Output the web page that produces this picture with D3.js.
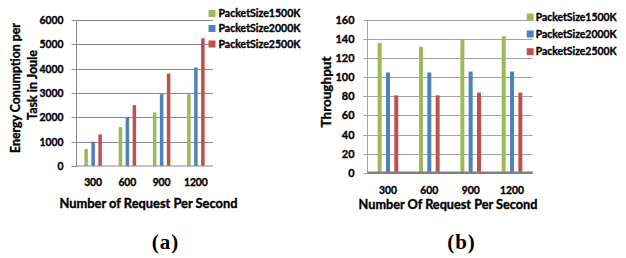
<!DOCTYPE html>
<html><head><meta charset="utf-8">
<script src="https://cdn.jsdelivr.net/npm/d3@7"></script>
<style>html,body{margin:0;padding:0;background:#fff;}svg{display:block;}
text.s{stroke:#000;stroke-width:0.35px;}</style>
</head><body>
<script>
const categories = ["300", "600", "900", "1200"];
const seriesNames = ["PacketSize1500K", "PacketSize2000K", "PacketSize2500K"];
const colors = ["#9BBB59", "#4F81BD", "#C0504D"];
const energy1500 = [700, 1600, 2200, 2950];
const energy2000 = [1000, 2000, 2950, 4050];
const energy2500 = [1300, 2500, 3800, 5250];
const energyTicks = [0, 1000, 2000, 3000, 4000, 5000, 6000];
const thr1500 = [136, 132, 140, 143];
const thr2000 = [105, 105, 106, 106];
const thr2500 = [81, 81, 84, 84];
const thrTicks = [0, 20, 40, 60, 80, 100, 120, 140, 160];

const SANS = "Lato, 'Open Sans', sans-serif";
const SERIF = "'Liberation Serif', 'DejaVu Serif', serif";

const svg = d3.select("body").append("svg").attr("width", 626).attr("height", 258);

// font-size fitting helper
const meas = svg.append("text").attr("font-family", SANS).attr("font-weight", "bold").attr("font-size", 100).attr("x", -1000).attr("y", -1000);
function fit(str, w) { meas.text(str); return 100 * w / meas.node().getComputedTextLength(); }

function panel(o) {
  const g = svg.append("g");
  const x = d3.scaleBand().domain(categories).range([o.left, o.right]).paddingInner(o.pad).paddingOuter(o.pad / 2);
  const xs = d3.scaleBand().domain(seriesNames).range([0, x.bandwidth()]).paddingInner(o.innerPad).paddingOuter(o.innerPad / 2);
  const y = d3.scaleLinear().domain([0, o.ticks[o.ticks.length - 1]]).range([o.bottom, o.top]);

  // gridlines
  g.append("g").selectAll("line").data(o.ticks.slice(1)).join("line")
    .attr("x1", o.left).attr("x2", o.right)
    .attr("y1", d => Math.round(y(d)) + 0.5).attr("y2", d => Math.round(y(d)) + 0.5)
    .attr("stroke", o.gridColor).attr("stroke-width", 1);

  // y axis
  const yAxis = d3.axisLeft(y).tickValues(o.ticks).tickSize(o.tickLen).tickPadding(o.tickPad).tickFormat(d3.format("d"));
  const ya = g.append("g").attr("transform", `translate(${Math.round(o.left) + 0.5},0)`).call(yAxis);
  ya.select(".domain").attr("stroke", o.gridColor).attr("d", `M0,${o.top}V${o.bottom}`);
  ya.selectAll(".tick line").attr("stroke", o.gridColor);
  ya.selectAll(".tick").attr("transform", d => `translate(0,${Math.round(y(d)) + 0.5})`);
  const ytfs = fit(o.yRef, o.yRefW);
  ya.selectAll(".tick text").attr("class", "s").attr("font-family", SANS).attr("font-weight", "bold").attr("font-size", ytfs).attr("fill", "#000").attr("dy", "0.34em");

  // bars
  const series = o.values.map((vals, i) => ({ name: seriesNames[i], color: colors[i], vals }));
  g.append("g").selectAll("g").data(series).join("g").attr("fill", d => d.color)
    .selectAll("rect").data(d => d.vals.map((v, j) => ({ s: d.name, c: categories[j], v }))).join("rect")
    .attr("x", d => x(d.c) + xs(d.s)).attr("width", xs.bandwidth())
    .attr("y", d => y(d.v)).attr("height", d => y(0) - y(d.v));

  // x axis line
  g.append("line").attr("x1", o.left).attr("x2", o.right)
    .attr("y1", y(0)).attr("y2", y(0))
    .attr("stroke", o.xAxisColor).attr("stroke-width", o.xAxisW);

  // x tick labels
  const xtfs = fit("1200", 24);
  g.append("g").selectAll("text").data(categories).join("text").attr("class", "s")
    .attr("x", d => x(d) + x.bandwidth() / 2).attr("y", o.xTickY).attr("dy", "0.35em")
    .attr("text-anchor", "middle").attr("font-family", SANS).attr("font-weight", "bold").attr("font-size", xtfs)
    .text(d => d);

  // x title
  g.append("text").attr("class", "s").attr("x", o.xTitleX).attr("y", o.xTitleY).attr("dy", "0.35em")
    .attr("text-anchor", "middle").attr("font-family", SANS).attr("font-weight", "bold")
    .attr("font-size", fit(o.xTitle, o.xTitleW)).text(o.xTitle);

  // y title lines
  o.yTitle.forEach(t => {
    g.append("text").attr("class", "s").attr("transform", `translate(${t.bx},${t.cy}) rotate(-90)`)
      .attr("text-anchor", "middle").attr("font-family", SANS).attr("font-weight", "bold")
      .attr("font-size", fit(t.text, t.w)).text(t.text);
  });

  // legend
  const lfs = fit(seriesNames[0], o.legW);
  const lg = g.append("g").selectAll("g").data(seriesNames).join("g")
    .attr("transform", (d, i) => `translate(${o.legX},${o.legY[i]})`);
  lg.append("rect").attr("x", 0).attr("y", -3.5).attr("width", 7).attr("height", 7).attr("fill", (d, i) => colors[i]);
  lg.append("text").attr("class", "s").attr("x", o.legTextDx).attr("y", 0).attr("dy", "0.35em")
    .attr("font-family", SANS).attr("font-weight", "bold").attr("font-size", lfs).text(d => d);

  // caption
  g.append("text").attr("x", o.capX).attr("y", o.capY).attr("text-anchor", "middle")
    .attr("font-family", SERIF).attr("font-weight", "bold").attr("font-size", 21).attr("letter-spacing", 1)
    .text(o.caption);
}

panel({
  left: 76, right: 213, top: 20, bottom: 166, pad: 0.387, innerPad: 0.5,
  ticks: energyTicks, values: [energy1500, energy2000, energy2500],
  gridColor: "#8a8a8a", xAxisColor: "#8a8a8a", xAxisW: 1,
  tickLen: 5, tickPad: 8, yRef: "6000", yRefW: 24,
  xTickY: 182.5, xTitle: "Number of Request Per Second", xTitleX: 148.5, xTitleY: 203.5, xTitleW: 178,
  yTitle: [{ text: "Energy Conumption per", bx: 19.5, cy: 88, w: 130 }, { text: "Task in Joule", bx: 37, cy: 85, w: 70 }],
  legX: 208.5, legY: [13.5, 28.5, 44], legTextDx: 10, legW: 82,
  caption: "(a)", capX: 165.5, capY: 249
});

panel({
  left: 367.3, right: 532.7, top: 20, bottom: 172.7, pad: 0.397, innerPad: 0.52,
  ticks: thrTicks, values: [thr1500, thr2000, thr2500],
  gridColor: "#a3a3a3", xAxisColor: "#808080", xAxisW: 2.5,
  tickLen: 4, tickPad: 9, yRef: "140", yRefW: 19,
  xTickY: 190, xTitle: "Number Of Request Per Second", xTitleX: 448, xTitleY: 205, xTitleW: 179,
  yTitle: [{ text: "Throughput", bx: 331, cy: 92, w: 71 }],
  legX: 526.7, legY: [17, 34, 51.7], legTextDx: 9, legW: 81,
  caption: "(b)", capX: 461.5, capY: 249
});

meas.remove();
</script>
</body></html>
